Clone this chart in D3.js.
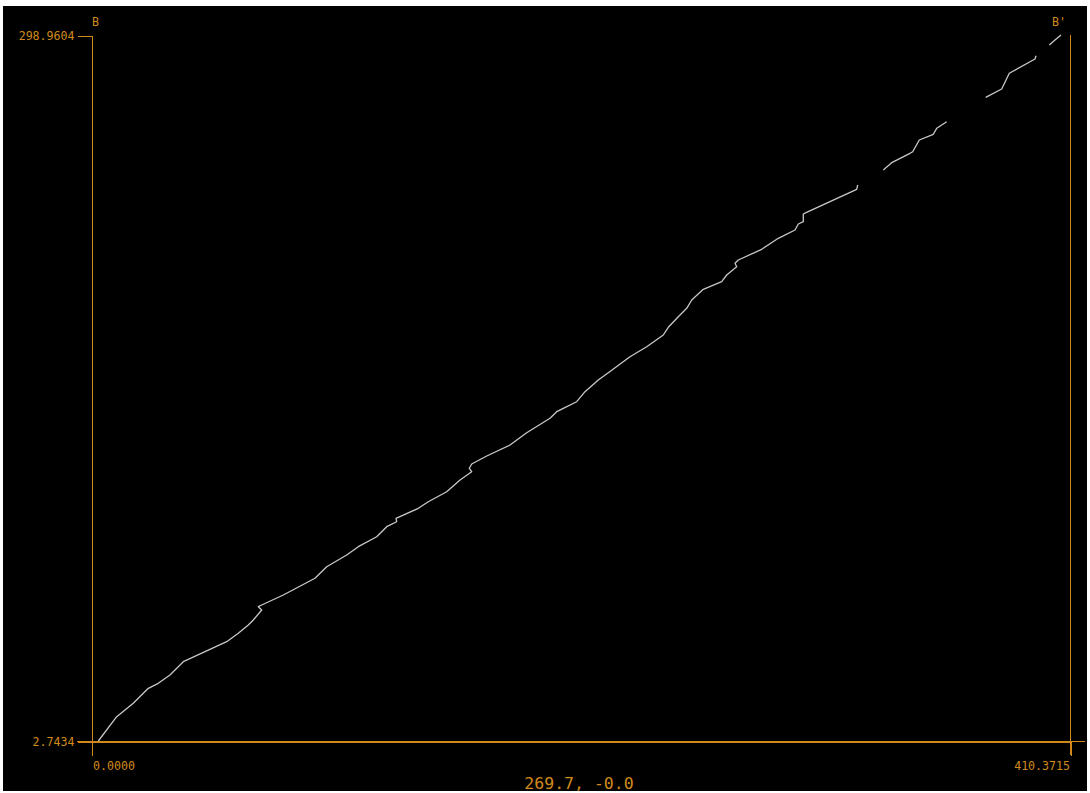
<!DOCTYPE html>
<html>
<head>
<meta charset="utf-8">
<script src="https://cdn.jsdelivr.net/npm/d3@7"></script>
<style>
  html, body { margin: 0; padding: 0; background: #ffffff; }
  svg { display: block; }
  text { font-family: "DejaVu Sans Mono", "Liberation Mono", monospace; }
</style>
</head>
<body>
<svg id="chart" width="1090" height="793"></svg>
<script>
// Profile along section B – B' (distance, elevation); null marks a break in the trace
const distance = [
  3.06, 10.77, 17.73, 24.02, 28.21, 33.11, 38.69, 47.79, 56.88, 61.74,
  65.94, 68.03, 71.55, 70.13, 71.55, 80.61, 93.89, 98.80, 107.18, 112.05,
  119.76, 123.95, 128.14, 127.85, 137.20, 141.39, 149.10, 154.68, 159.58, 158.57,
  159.58, 165.87, 175.63, 182.63, 192.40, 195.21, 197.97, 203.59, 207.07, 212.65,
  216.84, 225.93, 232.94, 239.89, 241.99, 246.18, 249.70, 251.80, 256.66, 264.37,
  266.47, 270.66, 269.95, 271.33, 281.14, 288.10, 295.10, 296.48, 298.58, 298.58,
  299.71, 320.96, 321.38, null,
  332.11, 335.63, 343.30, 344.43, 347.20, 353.07, 354.50, 358.69, null,
  375.04, 381.74, 384.93, 395.70, 396.12, null,
  401.70, 404.08, 406.60
];
const elevation = [
  2.74, 12.94, 18.56, 24.85, 26.95, 30.43, 36.02, 40.21, 44.41, 47.93,
  51.41, 53.51, 57.71, 59.09, 59.80, 64.00, 71.01, 75.87, 80.79, 84.27,
  88.46, 92.66, 94.75, 96.18, 100.38, 103.14, 107.34, 112.25, 115.73, 117.16,
  118.96, 122.32, 126.94, 132.10, 138.14, 140.91, 142.33, 145.10, 149.30, 154.21,
  157.27, 163.98, 168.18, 173.09, 176.32, 180.77, 184.29, 187.78, 192.26, 195.45,
  198.26, 201.75, 203.17, 204.56, 209.05, 213.66, 217.14, 219.66, 220.63, 223.86,
  224.40, 234.22, 236.03, null,
  242.32, 245.38, 249.32, 249.99, 254.91, 257.30, 259.81, 262.58, null,
  272.82, 276.30, 282.89, 288.89, 290.28, null,
  294.77, 296.86, 298.96
];

const xTicks = [0, 410.3715];
const yTicks = [2.7434, 298.9604];
const startLabel = "B";
const endLabel = "B'";
const cursorLabel = "269.7, -0.0";

const orange = "#d08a1c";
const svg = d3.select("#chart");

// dark plotting panel
svg.append("rect")
  .attr("x", 3).attr("y", 6)
  .attr("width", 1084).attr("height", 785)
  .attr("fill", "#000000");

const x = d3.scaleLinear().domain(d3.extent(xTicks)).range([91, 1070]);
const y = d3.scaleLinear().domain(d3.extent(yTicks)).range([741, 35]);

const fmt = d3.format(".4f");

// left axis
const gy = svg.append("g")
  .attr("transform", "translate(91.5,0.5)")
  .call(d3.axisLeft(y).tickValues(yTicks).tickSize(14).tickSizeOuter(0).tickFormat(fmt).tickPadding(3));

// bottom axis
const gx = svg.append("g")
  .attr("transform", "translate(0.5,741.5)")
  .call(d3.axisBottom(x).tickValues(xTicks).tickSize(14).tickSizeOuter(0).tickFormat(fmt).tickPadding(6));

gx.selectAll(".tick text")
  .attr("text-anchor", (d, i) => i === 0 ? "start" : "end")
  .attr("dx", (d, i) => i === 0 ? 1 : -1);

[gx, gy].forEach(g => {
  g.selectAll("path, line").attr("stroke", orange).attr("shape-rendering", "crispEdges");
  g.selectAll("text").attr("fill", orange).attr("font-size", "11.6px")
    .attr("font-family", "'DejaVu Sans Mono', monospace");
});

// axis frame extensions
const frame = svg.append("g").attr("stroke", orange).attr("shape-rendering", "crispEdges");
frame.append("line")
  .attr("x1", x(xTicks[0]) - 14).attr("x2", 1085)
  .attr("y1", y(yTicks[0]) + 0.5).attr("y2", y(yTicks[0]) + 0.5);
frame.append("line")
  .attr("x1", x(xTicks[1]) + 0.5).attr("x2", x(xTicks[1]) + 0.5)
  .attr("y1", y(yTicks[1])).attr("y2", y(yTicks[0]) + 14);

// section end labels
svg.append("text")
  .attr("x", x(xTicks[0]) + 1).attr("y", 26)
  .attr("fill", orange).attr("font-size", "11.6px")
  .text(startLabel);
svg.append("text")
  .attr("x", x(xTicks[1]) - 4).attr("y", 26)
  .attr("text-anchor", "end")
  .attr("fill", orange).attr("font-size", "11.6px")
  .text(endLabel);

// cursor readout
svg.append("text")
  .attr("x", 579).attr("y", 789)
  .attr("text-anchor", "middle")
  .attr("fill", orange).attr("font-size", "16.5px")
  .text(cursorLabel);

// profile trace
const pts = distance.map((d, i) => ({ d, e: elevation[i] }));
const line = d3.line()
  .defined(p => p.d !== null && p.e !== null)
  .x(p => x(p.d))
  .y(p => y(p.e));

svg.append("path")
  .datum(pts)
  .attr("fill", "none")
  .attr("stroke", "#c8c8c8")
  .attr("stroke-width", 1.3)
  .attr("stroke-linejoin", "round")
  .attr("d", line);
</script>
</body>
</html>
